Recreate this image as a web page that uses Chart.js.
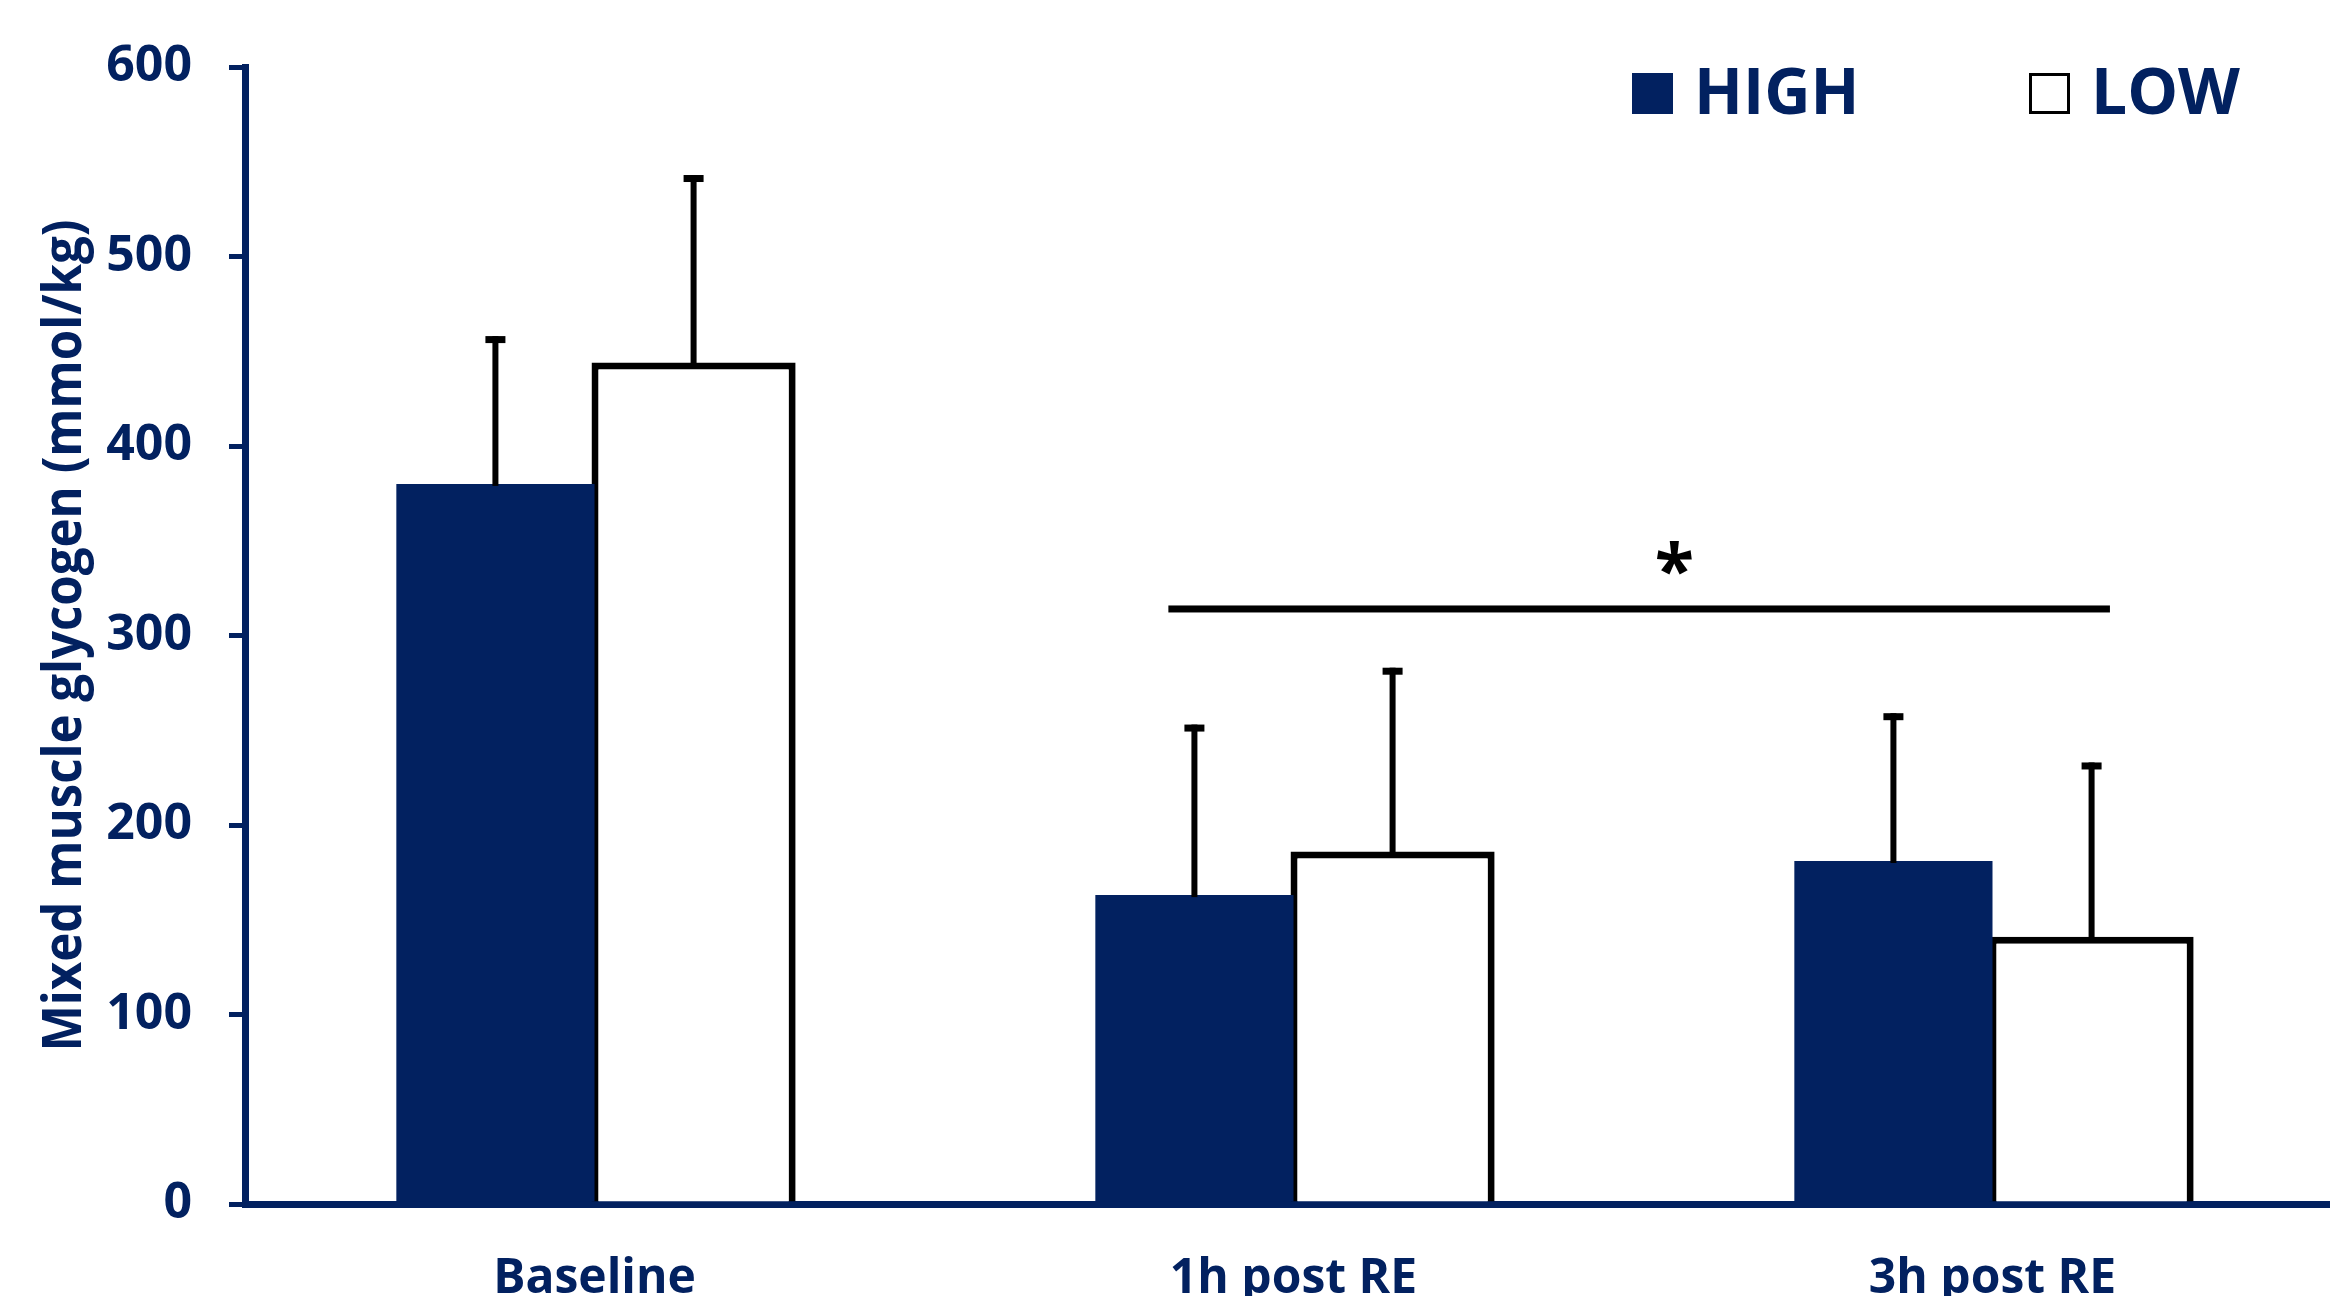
<!DOCTYPE html>
<html>
<head>
<meta charset="utf-8">
<script src="https://cdn.jsdelivr.net/npm/chart.js@4/dist/chart.umd.min.js"></script>
<style>
  html, body { margin: 0; padding: 0; background: #fff; overflow: hidden; }
  #wrap { width: 2330px; height: 1296px; overflow: hidden; }
</style>
</head>
<body>
<div id="wrap"><canvas id="glycogenChart" width="2342" height="1296"></canvas></div>
<script>
const categories = ['Baseline', '1h post RE', '3h post RE'];
const highMeans = [380, 163, 181];
const highSD = [78, 90, 78];
const lowMeans = [444, 186, 141];
const lowSD = [99, 97, 92];
const yTitle = 'Mixed muscle glycogen (mmol/kg)';

const navy = '#022160';

// error bars, only the upper half, like the figure
const errorBars = {
  id: 'errorBars',
  afterDatasetsDraw(chart) {
    const ctx = chart.ctx;
    const y = chart.scales.y;
    const sds = [highSD, lowSD];
    ctx.save();
    ctx.fillStyle = '#000';
    chart.data.datasets.forEach((ds, i) => {
      chart.getDatasetMeta(i).data.forEach((bar, j) => {
        const top = y.getPixelForValue(ds.data[j] + sds[i][j]);
        ctx.fillRect(bar.x - 3, top, 6, bar.y - top + 2);
        ctx.fillRect(bar.x - 10, top, 20, 7);
      });
    });
    ctx.restore();
  }
};

// significance line and star between the post RE timepoints
const sigMark = {
  id: 'sigMark',
  afterDatasetsDraw(chart) {
    const ctx = chart.ctx;
    const x = chart.scales.x, y = chart.scales.y;
    const step = x.getPixelForValue(1) - x.getPixelForValue(0);
    const px = v => x.getPixelForValue(0) + v * step;
    const ly = y.getPixelForValue(314);
    ctx.save();
    ctx.fillStyle = '#000';
    ctx.fillRect(px(0.821), ly - 3.5, px(2.168) - px(0.821), 7);
    ctx.font = 'bold 72px "Open Sans"';
    ctx.textAlign = 'center';
    ctx.textBaseline = 'middle';
    ctx.fillText('*', px(1.545), y.getPixelForValue(337) + 10);
    ctx.restore();
  }
};

// condensed rotated axis title (the original uses a narrow face)
const narrowTitle = {
  id: 'narrowTitle',
  afterDraw(chart) {
    const ctx = chart.ctx;
    const area = chart.chartArea;
    ctx.save();
    ctx.font = 'bold 54px "Open Sans"';
    const w = ctx.measureText(yTitle).width;
    ctx.translate(66, (area.top + area.bottom) / 2);
    ctx.rotate(-Math.PI / 2);
    ctx.scale(832 / w, 1);
    ctx.fillStyle = navy;
    ctx.textAlign = 'center';
    ctx.textBaseline = 'middle';
    ctx.fillText(yTitle, 0, 0);
    ctx.restore();
  }
};

// legend drawn by hand so it sits in the top right corner
const boxLegend = {
  id: 'boxLegend',
  afterDraw(chart) {
    const ctx = chart.ctx;
    const items = [{ x: 1632, fill: navy }, { x: 2029, fill: '#fff' }];
    ctx.save();
    ctx.font = 'bold 64px "Open Sans"';
    ctx.textBaseline = 'middle';
    items.forEach((it, i) => {
      ctx.fillStyle = it.fill;
      ctx.fillRect(it.x, 73, 41, 41);
      if (i === 1) {
        ctx.strokeStyle = '#000';
        ctx.lineWidth = 3;
        ctx.strokeRect(it.x + 1.5, 74.5, 38, 38);
      }
      ctx.fillStyle = navy;
      ctx.fillText(chart.data.datasets[i].label, it.x + 62, 96);
    });
    ctx.restore();
  }
};

new Chart(document.getElementById('glycogenChart'), {
  type: 'bar',
  data: {
    labels: categories,
    datasets: [{
      label: 'HIGH',
      data: highMeans,
      backgroundColor: navy,
      borderWidth: 0,
      barPercentage: 1.0
    }, {
      label: 'LOW',
      data: lowMeans,
      backgroundColor: '#fff',
      borderColor: '#000',
      borderWidth: 7,
      borderSkipped: 'bottom',
      barPercentage: 1.03
    }]
  },
  options: {
    responsive: false,
    animation: false,
    categoryPercentage: 0.567,
    layout: { padding: { top: 57, right: 0, bottom: 0, left: 0 } },
    plugins: { legend: { display: false }, tooltip: { enabled: false } },
    scales: {
      x: {
        z: 1,
        grid: { display: false, drawTicks: false },
        border: { display: true, color: navy, width: 7 },
        ticks: { color: navy, font: { family: 'Open Sans', weight: 'bold', size: 48 }, padding: 47 },
        afterFit: s => { s.height = 92; }
      },
      y: {
        min: 0,
        max: 600,
        ticks: { stepSize: 100, color: navy, font: { family: 'Open Sans', weight: 'bold', size: 50 }, padding: 37 },
        grid: { drawOnChartArea: false, drawTicks: true, tickLength: 16, color: navy, lineWidth: 5 },
        border: { display: true, color: navy, width: 7 },
        afterFit: s => { s.width = 245; }
      }
    }
  },
  plugins: [errorBars, sigMark, narrowTitle, boxLegend]
});
</script>
</body>
</html>
